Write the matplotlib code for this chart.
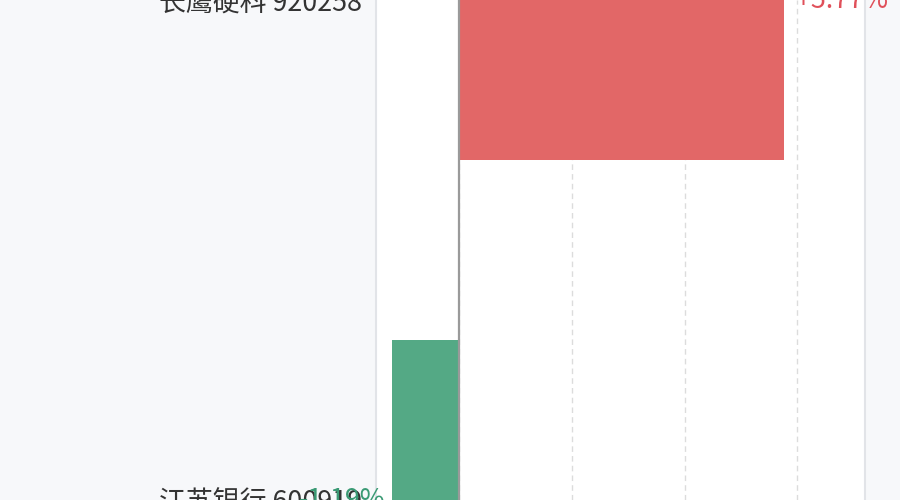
import matplotlib
matplotlib.use("Agg")
import matplotlib.pyplot as plt

plt.rcParams['font.family'] = ['Noto Sans CJK SC', 'DejaVu Sans']

names = ["长鹰硬科 920258", "江苏银行 600919"]
values = [5.77, -1.19]
value_labels = ["+5.77%", "-1.19%"]
xticks = [0, 2, 4, 6]

red = "#e26767"
green = "#54a985"

fig = plt.figure(figsize=(9, 5), dpi=100)
fig.patch.set_facecolor("#f7f8fa")
ax = fig.add_axes([376 / 900, 0, (865 - 376) / 900, 1])
ax.set_facecolor("white")

ypos = list(range(len(names)))
colors = [red if v >= 0 else green for v in values]
ax.barh(ypos, values, height=0.641, color=colors, zorder=3)

ax.set_xlim(-1.47, 7.2)
ax.set_ylim(0.9873, 0.01267)

ax.set_xticks(xticks)
ax.grid(axis="x", linestyle=(0, (4, 3)), color="#dcdcdc", linewidth=1, zorder=1)
ax.axvline(0, color="#9a9a9a", linewidth=1.6, zorder=4)

ax.set_yticks(ypos)
ax.set_yticklabels(names, fontsize=19.4, color="#333333")
ax.tick_params(axis="y", length=0, pad=10)
ax.tick_params(axis="x", length=0, labelbottom=False)

for s in ["top", "bottom"]:
    ax.spines[s].set_visible(False)
for s in ["left", "right"]:
    ax.spines[s].set_color("#e2e4e8")
    ax.spines[s].set_linewidth(1.5)

for y, v, lab in zip(ypos, values, value_labels):
    if v >= 0:
        ax.annotate(lab, (v, y), xytext=(8.6, 0), textcoords="offset points",
                    ha="left", va="center", fontsize=19.4, color="#e0505a", zorder=5)
    else:
        ax.annotate(lab, (v, y), xytext=(-4.5, 0), textcoords="offset points",
                    ha="right", va="center", fontsize=19.4, color="#3a9a74", zorder=5,
                    annotation_clip=False)

fig.savefig("out.png", dpi=100, facecolor=fig.get_facecolor())
